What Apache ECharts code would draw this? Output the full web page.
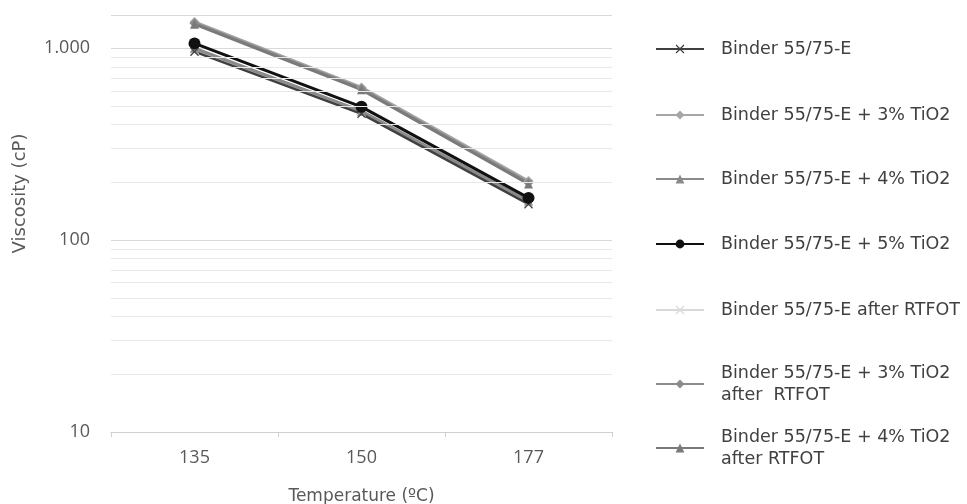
<!DOCTYPE html>
<html>
<head>
<meta charset="utf-8">
<script src="https://cdn.jsdelivr.net/npm/echarts@6/dist/echarts.min.js"></script>
<style>
  html, body { margin: 0; padding: 0; background: #fff; }
  #chart { width: 967px; height: 504px; }
</style>
</head>
<body>
<div id="chart"></div>
<script>
// temperatures (x categories)
const temperatures = ['135', '150', '177']

// viscosity values, cP
const binder = [960, 455, 154]
const binder3 = [1370, 625, 203]
const binder4 = [1000, 470, 160]
const binder5 = [1060, 495, 166]
const binderRtfot = [980, 462, 157]
const binder3Rtfot = [1350, 615, 199]
const binder4Rtfot = [1335, 608, 196]

const legendNames = [
  'Binder 55/75-E',
  'Binder 55/75-E + 3% TiO2',
  'Binder 55/75-E + 4% TiO2',
  'Binder 55/75-E + 5% TiO2',
  'Binder 55/75-E after RTFOT',
  'Binder 55/75-E + 3% TiO2\nafter  RTFOT',
  'Binder 55/75-E + 4% TiO2\nafter RTFOT'
]

// minor gridlines of the log axis
const minorGrid = [20, 30, 40, 50, 60, 70, 80, 90, 200, 300, 400, 500, 600, 700, 800, 900]

const cross = 'path://M0,1L1,0L5,4L9,0L10,1L6,5L10,9L9,10L5,6L1,10L0,9L4,5Z'
const textColor = '#595959'
const font = 'Open Sans'

const chart = echarts.init(document.getElementById('chart'), null, { renderer: 'canvas' })

function line (name, data, color, symbol, width, size) {
  return {
    name: name,
    type: 'line',
    data: data,
    symbol: symbol,
    symbolSize: size,
    lineStyle: { color: color, width: width },
    itemStyle: { color: color },
    emphasis: { disabled: true },
    z: 3
  }
}

// legend item centres (y), single and two-line labels
const legendCentres = [49, 115, 179, 244, 310, 384, 448]
const lh = 22

chart.setOption({
  animation: false,
  textStyle: { fontFamily: font },
  grid: { left: 111, right: 355, top: 15, bottom: 72, outerBoundsMode: 'none' },
  legend: legendNames.map((n, i) => {
    const lines = n.split('\n').length
    return {
      data: [n],
      orient: 'vertical',
      left: 650,
      top: legendCentres[i] - 5 - lines * lh / 2,
      itemWidth: 48,
      itemHeight: 11,
      itemGap: 0,
      textStyle: { color: '#404040', fontSize: 17.5, fontFamily: 'DejaVu Sans', lineHeight: lh, padding: [0, 0, 0, 12] },
      selectedMode: false
    }
  }),
  xAxis: {
    type: 'category',
    data: temperatures,
    boundaryGap: true,
    name: 'Temperature (ºC)',
    nameLocation: 'middle',
    nameGap: 56,
    nameTextStyle: { color: textColor, fontSize: 17, fontFamily: 'DejaVu Sans' },
    axisLine: { lineStyle: { color: '#d0d0d0' } },
    axisTick: { show: true, length: 5, lineStyle: { color: '#d0d0d0' } },
    axisLabel: { color: textColor, fontSize: 18, margin: 17, fontFamily: font }
  },
  yAxis: {
    type: 'log',
    logBase: 10,
    min: 10,
    max: 1490,
    name: 'Viscosity (cP)',
    nameLocation: 'middle',
    nameGap: 82,
    nameTextStyle: { color: textColor, fontSize: 18, fontFamily: 'DejaVu Sans', padding: [0, 0, 0, 60] },
    axisLine: { show: false },
    axisTick: { show: false },
    axisLabel: {
      color: textColor,
      fontSize: 18,
      fontFamily: font,
      margin: 21,
      formatter: v => {
        const r = Math.round(v)
        if (r === 1000) return '1.000'
        if (r === 100 || r === 10) return String(r)
        return ''
      }
    },
    splitLine: { show: true, lineStyle: { color: '#d9d9d9', width: 1 } }
  },
  series: [
    {
      name: 'gridlines',
      type: 'line',
      data: [null, null, null],
      silent: true,
      z: 1,
      markLine: {
        silent: true,
        symbol: 'none',
        label: { show: false },
        lineStyle: { color: '#e8e8e8', width: 1, type: 'solid' },
        data: minorGrid.map(v => ({ yAxis: v }))
      }
    },
    line(legendNames[4], binderRtfot, '#d9d9d9', cross, 2.5, 9),
    line(legendNames[1], binder3, '#a6a6a6', 'diamond', 3, 10),
    line(legendNames[5], binder3Rtfot, '#8c8c8c', 'diamond', 3, 10),
    line(legendNames[6], binder4Rtfot, '#7a7a7a', 'triangle', 3, 9),
    line(legendNames[2], binder4, '#8a8a8a', 'triangle', 3, 9),
    line(legendNames[0], binder, '#404040', cross, 2.5, 9),
    line(legendNames[3], binder5, '#111111', 'circle', 3, 12)
  ]
})
</script>
</body>
</html>
